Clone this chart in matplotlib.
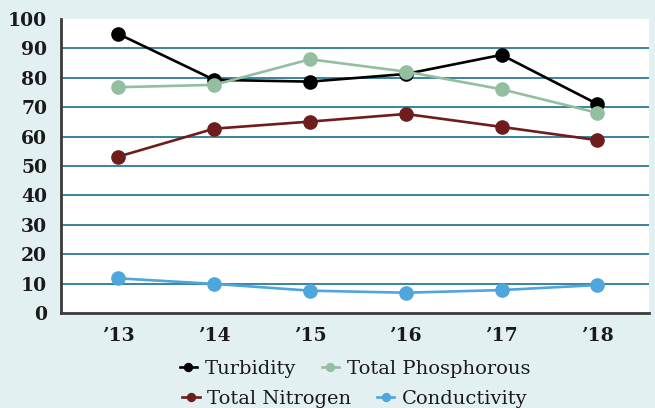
import matplotlib
matplotlib.use('Agg')
import matplotlib.pyplot as plt

years = ['’13', '’14', '’15', '’16', '’17', '’18']
turbidity = [94.9, 79.3, 78.7, 81.3, 87.8, 71.1]
phosphorous = [76.8, 77.6, 86.3, 82.1, 76.1, 68.1]
nitrogen = [53.2, 62.7, 65.1, 67.7, 63.3, 58.8]
conductivity = [11.8, 9.9, 7.6, 6.9, 7.8, 9.5]

series = [
    ('Turbidity', turbidity, '#000000'),
    ('Total Phosphorous', phosphorous, '#93bfa0'),
    ('Total Nitrogen', nitrogen, '#6e1c1c'),
    ('Conductivity', conductivity, '#4fa6dc'),
]

bg = '#e2f0f1'
fig = plt.figure(figsize=(6.55, 4.08), dpi=100, facecolor=bg)
ax = fig.add_axes([61/655, 95/408, 588/655, 294/408])
ax.set_facecolor('white')

x = list(range(len(years)))
handles = []
for name, vals, col in series:
    ln, = ax.plot(x, vals, color=col, lw=1.9, marker='o', ms=9.5,
                  mec=col, mfc=col, label=name, zorder=3)
    handles.append(ln)

ax.set_xlim(-0.6, 5.54)
ax.set_ylim(0, 100)
ax.set_yticks(range(0, 101, 10))
ax.set_xticks(x)
ax.set_xticklabels(years)
for y in range(10, 100, 10):
    ax.axhline(y, color='#2b7b95', lw=1.3, zorder=1)

for s in ['top', 'right']:
    ax.spines[s].set_visible(False)
for s in ['left', 'bottom']:
    ax.spines[s].set_color('#3b3b3b')
    ax.spines[s].set_linewidth(2)
ax.tick_params(length=0)
ax.tick_params(axis='y', pad=10)
ax.tick_params(axis='x', pad=10)
for lab in ax.get_xticklabels() + ax.get_yticklabels():
    lab.set_fontfamily('DejaVu Serif')
    lab.set_fontweight('bold')
    lab.set_fontsize(13.5)
    lab.set_color('#1a1a1a')

leg_kw = dict(ncol=2, frameon=False, loc='center', borderpad=0,
              handlelength=0.9, handletextpad=0.4, columnspacing=1.3,
              markerscale=0.6, bbox_transform=fig.transFigure,
              prop={'family': 'DejaVu Serif', 'size': 14})
leg1 = fig.legend(handles=handles[:2], bbox_to_anchor=(355/655, 0.096), **leg_kw)
leg2 = fig.legend(handles=handles[2:], bbox_to_anchor=(355/655, 0.022), **leg_kw)
for leg in (leg1, leg2):
    for t in leg.get_texts():
        t.set_color('#1a1a1a')

fig.savefig('out.png', dpi=100, facecolor=bg)
